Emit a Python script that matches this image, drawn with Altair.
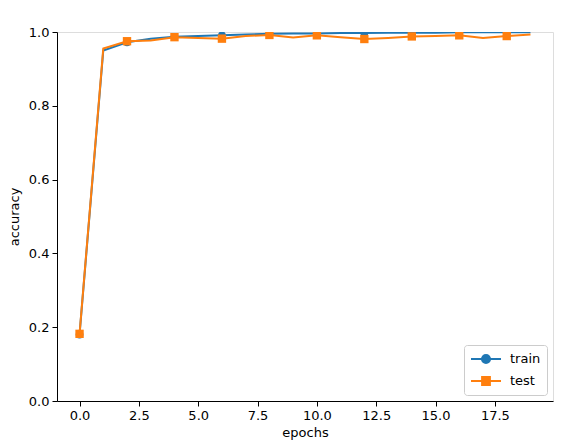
import altair as alt
import pandas as pd

epochs = list(range(20))
train_acc = [0.180, 0.950, 0.972, 0.982, 0.987, 0.989, 0.991, 0.993, 0.995, 0.996,
             0.996, 0.997, 0.997, 0.998, 0.998, 0.998, 0.999, 0.999, 0.999, 0.999]
test_acc = [0.182, 0.955, 0.975, 0.977, 0.986, 0.984, 0.982, 0.989, 0.992, 0.985,
            0.991, 0.986, 0.981, 0.984, 0.988, 0.989, 0.991, 0.984, 0.989, 0.993]
series_names = ["train", "test"]
colors = ["#1f77b4", "#ff7f0e"]
x_ticks = [0.0, 2.5, 5.0, 7.5, 10.0, 12.5, 15.0, 17.5]
y_ticks = [0.0, 0.2, 0.4, 0.6, 0.8, 1.0]

rows = []
for e, a in zip(epochs, train_acc):
    rows.append({"epoch": e, "acc": a, "series": "train"})
for e, a in zip(epochs, test_acc):
    rows.append({"epoch": e, "acc": a, "series": "test"})
df = pd.DataFrame(rows)

FONT = "DejaVu Sans"
xs = alt.Scale(domain=[-0.95, 19.95], nice=False, zero=False)
ys = alt.Scale(domain=[0, 1], nice=False)
xax = alt.Axis(values=x_ticks, format=".1f", title="epochs", grid=False,
               domainColor="black", tickColor="black", tickSize=5, labelPadding=3,
               labelFontSize=13, titleFontSize=13, labelFont=FONT, titleFont=FONT,
               labelColor="black", titleColor="black", titleFontWeight="normal", titlePadding=4)
yax = alt.Axis(values=y_ticks, format=".1f", title="accuracy", grid=False,
               domainColor="black", tickColor="black", tickSize=5, labelPadding=3,
               labelFontSize=13, titleFontSize=13, labelFont=FONT, titleFont=FONT,
               labelColor="black", titleColor="black", titleFontWeight="normal", titlePadding=7)

base = alt.Chart(df)
layers = []
shapes = {"train": "circle", "test": "square"}
for name, col in zip(series_names, colors):
    d = base.transform_filter(alt.datum.series == name)
    layers.append(d.mark_line(color=col, strokeWidth=2, clip=True).encode(
        x=alt.X("epoch:Q", scale=xs, axis=xax),
        y=alt.Y("acc:Q", scale=ys, axis=yax)))
    layers.append(d.transform_filter("datum.epoch % 2 == 0").mark_point(
        filled=True, color=col, shape=shapes[name], size=60 if name == "train" else 70,
        opacity=1, clip=True).encode(
        x=alt.X("epoch:Q", scale=xs, axis=xax),
        y=alt.Y("acc:Q", scale=ys, axis=yax)))

circle_path = "M-1,0L1,0M-0.27,0A0.27,0.27,0,1,1,0.27,0A0.27,0.27,0,1,1,-0.27,0Z"
square_path = "M-1,0L1,0M-0.26,-0.26L0.26,-0.26L0.26,0.26L-0.26,0.26Z"
leg = alt.Legend(title=None, orient="bottom-right", offset=6, padding=6,
                 strokeColor="#cccccc", fillColor="white", cornerRadius=3,
                 symbolSize=900, symbolStrokeWidth=2, clipHeight=16, rowPadding=6,
                 labelFontSize=13, labelFont=FONT, labelColor="black", labelOffset=8,
                 symbolOpacity=1)
legend_layer = base.mark_point(filled=True, clip=True).encode(
    x=alt.value(-1000), y=alt.value(-1000),
    color=alt.Color("series:N", scale=alt.Scale(domain=series_names, range=colors), legend=leg),
    stroke=alt.Stroke("series:N", scale=alt.Scale(domain=series_names, range=colors), legend=leg),
    shape=alt.Shape("series:N", scale=alt.Scale(domain=series_names, range=[circle_path, square_path]), legend=leg),
)
layers.append(legend_layer)

chart = alt.layer(*layers).properties(
    width=496, height=369,
    autosize=alt.AutoSizeParams(type="none"),
    padding={"left": 49, "top": 24, "right": 4, "bottom": 45},
).configure_view(stroke="black", strokeWidth=1).configure(background="white")

chart.save("out.html", embed_options={"renderer": "svg", "actions": False})
